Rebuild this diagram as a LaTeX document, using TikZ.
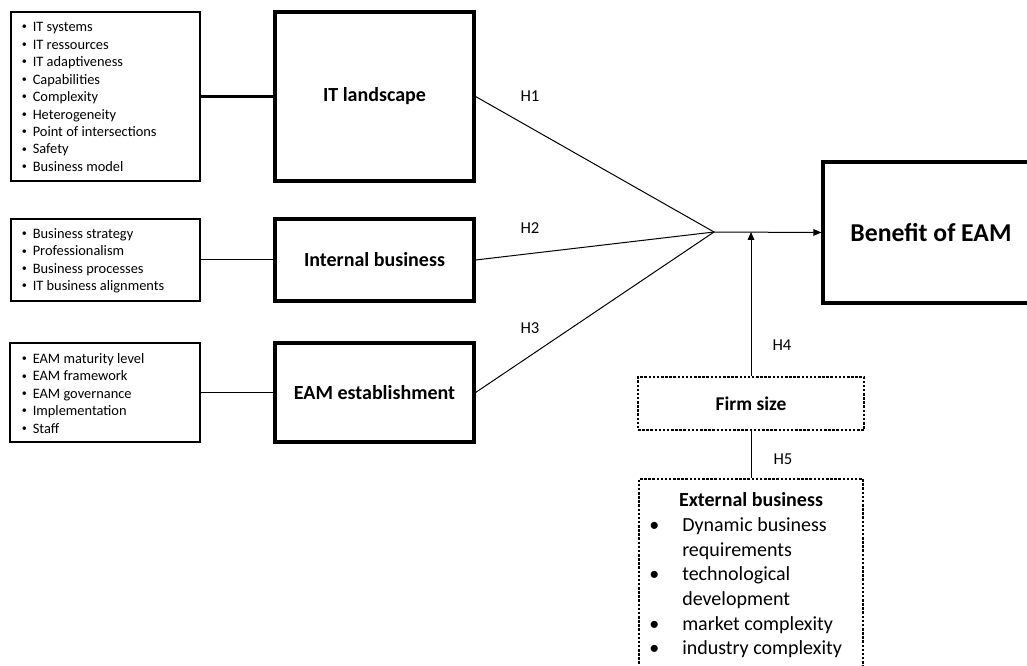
\documentclass[tikz,border=0pt]{standalone}
\usepackage{fontspec}
\setmainfont{Carlito}
\usetikzlibrary{arrows.meta}
\newcommand{\smallbul}{\raisebox{0.12em}{\scalebox{0.7}{\textbullet}}}
\newcommand{\bl}[1]{\makebox[8.25pt][l]{\smallbul}#1}
\newcommand{\eb}[1]{\makebox[24.75pt][l]{\textbullet}#1}
\newcommand{\ec}[1]{\hspace*{24.75pt}#1}
\begin{document}
\begin{tikzpicture}[x=0.75pt,y=-0.75pt,
  listbox/.style={draw, line width=0.9pt, inner sep=0},
  bigbox/.style={draw, line width=2.4pt, inner sep=0, font=\bfseries\fontsize{15}{18}\selectfont},
  dotbox/.style={draw, line width=2.2pt, dash pattern=on 1.9pt off 1.2pt, inner sep=0},
  listtext/.style={anchor=base west, inner sep=0, font=\fontsize{10.8}{13.1}\selectfont},
  hlabel/.style={font=\fontsize{12.5}{15}\selectfont, inner sep=0},
  conn/.style={line width=0.75pt},
  arr/.style={line width=0.75pt, -{Triangle[length=6pt,width=5pt]}}]
\useasboundingbox (0,0) rectangle (1027,666);
\clip (0,0) rectangle (1027,666);

% list boxes
\node[listbox, minimum width=189*0.75pt, minimum height=169*0.75pt] (l1) at (105.5,96.5) {};
\node[listbox, minimum width=189*0.75pt, minimum height=82*0.75pt] (l2) at (105.5,260) {};
\node[listbox, minimum width=190*0.75pt, minimum height=99*0.75pt] (l3) at (105,392.5) {};

\node[listtext] (t1) at (21.5,31.7) {\parbox[t]{180pt}{\bl{IT systems}\\\bl{IT ressources}\\\bl{IT adaptiveness}\\\bl{Capabilities}\\\bl{Complexity}\\\bl{Heterogeneity}\\\bl{Point of intersections}\\\bl{Safety}\\\bl{Business model}}};
\node[listtext] (t2) at (21.5,238.3) {\parbox[t]{180pt}{\bl{Business strategy}\\\bl{Professionalism}\\\bl{Business processes}\\\bl{IT business alignments}}};
\node[listtext] (t3) at (21.5,363.3) {\parbox[t]{180pt}{\bl{EAM maturity level}\\\bl{EAM framework}\\\bl{EAM governance}\\\bl{Implementation}\\\bl{Staff}}};

% main boxes
\node[bigbox, minimum width=199*0.75pt, minimum height=169*0.75pt] (itl) at (374.5,96.5) {IT landscape};
\node[bigbox, minimum width=199*0.75pt, minimum height=82*0.75pt] (ib) at (374.5,260) {Internal business};
\node[bigbox, minimum width=199*0.75pt, minimum height=99*0.75pt] (eam) at (374.5,392.5) {EAM establishment};
\node[bigbox, font=\bfseries\fontsize{19.3}{23}\selectfont, minimum width=216*0.75pt, minimum height=141*0.75pt] (ben) at (931,232.5) {Benefit of EAM};

% moderators
\node[dotbox, font=\bfseries\fontsize{14.6}{17}\selectfont, minimum width=226*0.75pt, minimum height=53*0.75pt] (firm) at (751,403.5) {Firm size};
\node[dotbox, minimum width=224*0.75pt, minimum height=221*0.75pt] (ext) at (751,589.5) {};
\node[anchor=base, inner sep=0, font=\bfseries\fontsize{15}{18}\selectfont] (extt) at (751,506.7) {External business};
\node[anchor=base west, inner sep=0, font=\fontsize{15}{18.5}\selectfont] (extl) at (649,531.5) {\parbox[t]{200pt}{\eb{Dynamic business}\\\ec{requirements}\\\eb{technological}\\\ec{development}\\\eb{market complexity}\\\eb{industry complexity}}};

% junction points
\coordinate (conv) at (714,232);
\coordinate (tip) at (751,232);

% connectors
\draw[line width=1.6pt] (l1.east) -- (itl.west);
\draw[conn] (l2.east) -- (ib.west);
\draw[conn] (l3.east) -- (eam.west);
\draw[conn] (itl.east) -- (conv);
\draw[conn] (ib.east) -- (conv);
\draw[conn] (eam.east) -- (conv);
\draw[arr] (conv) -- (ben.west);
\draw[arr] (firm.north) -- (tip);
\draw[conn] (firm.south) -- (ext.north);

% labels
\node[hlabel] (h1) at (530,96) {H1};
\node[hlabel] (h2) at (530,228) {H2};
\node[hlabel] (h3) at (530,328) {H3};
\node[hlabel] (h4) at (782,345) {H4};
\node[hlabel] (h5) at (783,459) {H5};
\end{tikzpicture}
\end{document}
